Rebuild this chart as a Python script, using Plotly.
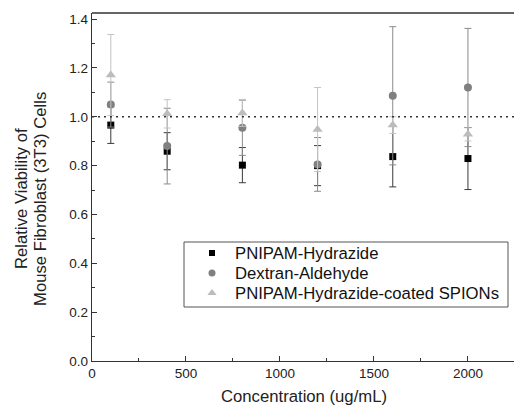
import plotly.graph_objects as go

conc = [100, 400, 800, 1200, 1600, 2000]

hyd_y = [0.966, 0.859, 0.802, 0.800, 0.837, 0.829]
hyd_err = [0.075, 0.076, 0.072, 0.082, 0.124, 0.127]

dex_y = [1.050, 0.880, 0.955, 0.805, 1.086, 1.120]
dex_err = [0.092, 0.155, 0.113, 0.110, 0.283, 0.242]

spion_y = [1.171, 1.012, 1.016, 0.948, 0.966, 0.928]
spion_err = [0.166, 0.058, 0.055, 0.172, 0.034, 0.027]

names = ["PNIPAM-Hydrazide", "Dextran-Aldehyde", "PNIPAM-Hydrazide-coated SPIONs"]
x_title = "Concentration (ug/mL)"
y_title_lines = ["Relative Viability of", "Mouse Fibroblast (3T3) Cells"]

# plot area in pixels (for converting legend/title placement)
W, H = 514, 407
L, R, T, B = 92, 0, 13, 46
PW, PH = W - L - R, H - T - B


def px_x(px):
    return (px - L) / PW


def px_y(py):
    return (H - B - py) / PH


fig = go.Figure()

symbols = ["square", "circle", "triangle-up"]
colors = ["#000000", "#808080", "#bcbcbc"]
ecolors = ["#3a3a3a", "#8a8a8a", "#c4c4c4"]
sizes = [7, 8, 9]
series = [(hyd_y, hyd_err), (dex_y, dex_err), (spion_y, spion_err)]

for i, (y, e) in enumerate(series):
    fig.add_trace(go.Scatter(
        x=conc, y=y, mode="markers", name=names[i], showlegend=False,
        marker=dict(symbol=symbols[i], color=colors[i], size=sizes[i]),
        error_y=dict(type="data", array=e, visible=True, color=ecolors[i],
                     thickness=1, width=3.5),
    ))

fig.add_hline(y=1.0, line=dict(color="#333333", width=1.6, dash="2px,4px"))

# top frame line (no right-hand frame in the reference)
fig.add_shape(type="line", xref="paper", yref="paper", x0=0, x1=1, y0=1, y1=1,
              line=dict(color="#333333", width=1.3))

# legend box (drawn manually to match the compact row spacing)
fig.add_shape(type="rect", xref="paper", yref="paper",
              x0=px_x(184), x1=px_x(508), y0=px_y(307), y1=px_y(242),
              line=dict(color="#555555", width=1), fillcolor="white", layer="below")

row_py = [253, 273, 293]
for i, n in enumerate(names):
    fig.add_trace(go.Scatter(
        x=[px_x(212)], y=[px_y(row_py[i])], xaxis="x2", yaxis="y2",
        mode="markers", showlegend=False, hoverinfo="skip",
        marker=dict(symbol=symbols[i], color=colors[i], size=sizes[i] - 1),
    ))
    fig.add_annotation(xref="paper", yref="paper", x=px_x(233), y=px_y(row_py[i]),
                       text=n, showarrow=False, xanchor="left", yanchor="middle",
                       font=dict(size=16.7, color="#111111"))

# axis titles
fig.add_annotation(xref="paper", yref="paper", x=px_x(304), y=px_y(396),
                   text=x_title, showarrow=False, xanchor="center", yanchor="middle",
                   font=dict(size=16.7, color="#222222"))
for j, t in enumerate(y_title_lines):
    fig.add_annotation(xref="paper", yref="paper", x=px_x([21, 40][j]), y=px_y(199),
                       text=t, textangle=-90, showarrow=False,
                       xanchor="center", yanchor="middle",
                       font=dict(size=16.7, color="#222222"))

fig.update_layout(
    width=W, height=H,
    margin=dict(l=L, r=R, t=T, b=B),
    paper_bgcolor="white", plot_bgcolor="white",
    font=dict(family="Liberation Sans, Arial, sans-serif", color="#222222"),
    showlegend=False,
    xaxis=dict(
        range=[0, 2245], tickvals=[0, 500, 1000, 1500, 2000],
        ticks="inside", ticklen=5, tickwidth=1, tickcolor="#333333",
        minor=dict(dtick=250, tick0=0, ticks="inside", ticklen=3, tickcolor="#333333"),
        showline=True, linecolor="#333333", linewidth=1.3, mirror=False,
        showgrid=False, zeroline=False,
        tickfont=dict(size=13.5),
    ),
    yaxis=dict(
        range=[0, 1.425], tickvals=[0, 0.2, 0.4, 0.6, 0.8, 1.0, 1.2, 1.4],
        tickformat=".1f",
        ticks="inside", ticklen=5, tickwidth=1, tickcolor="#333333",
        minor=dict(dtick=0.1, tick0=0, ticks="inside", ticklen=3, tickcolor="#333333"),
        showline=True, linecolor="#333333", linewidth=1.3,
        showgrid=False, zeroline=False,
        tickfont=dict(size=13.5),
    ),
    xaxis2=dict(overlaying="x", range=[0, 1], visible=False),
    yaxis2=dict(overlaying="y", range=[0, 1], visible=False),
)

fig.write_html("out.html")
